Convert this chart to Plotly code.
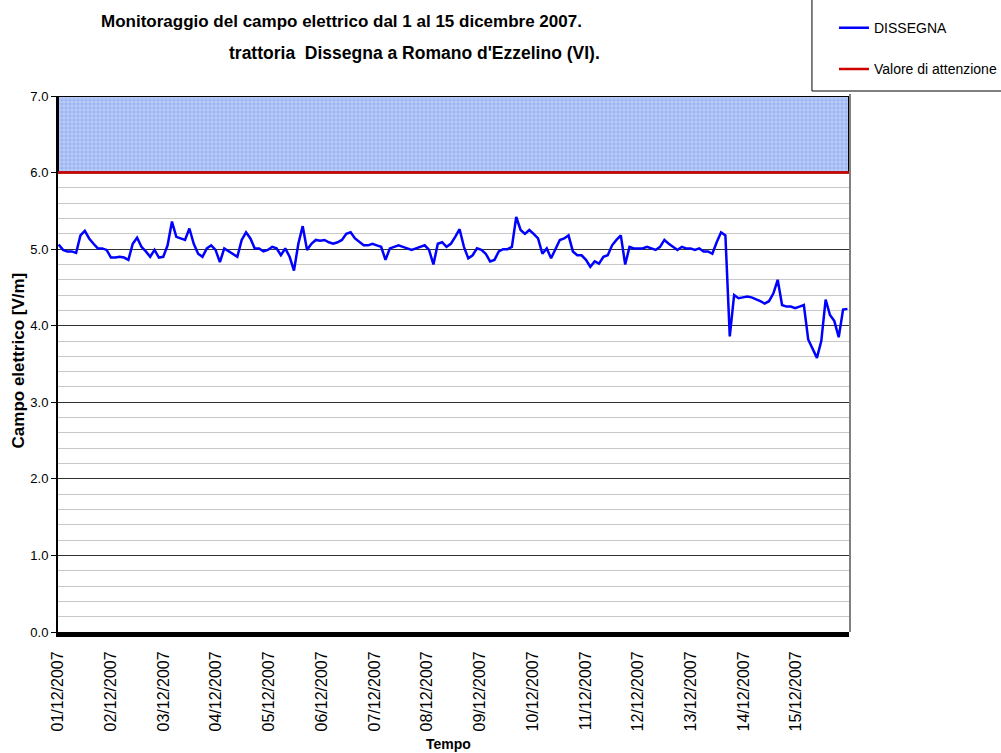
import plotly.graph_objects as go
import pandas as pd

# ---- data ----
tick_labels = ["01/12/2007", "02/12/2007", "03/12/2007", "04/12/2007", "05/12/2007",
               "06/12/2007", "07/12/2007", "08/12/2007", "09/12/2007", "10/12/2007",
               "11/12/2007", "12/12/2007", "13/12/2007", "14/12/2007", "15/12/2007"]
tick_dates = ["2007-12-%02d" % d for d in range(1, 16)]

dissegna = [
    5.06, 4.99, 4.97, 4.97, 4.95, 5.18, 5.24, 5.14, 5.07, 5.01,
    5.01, 4.99, 4.89, 4.89, 4.90, 4.89, 4.86, 5.07, 5.15, 5.03,
    4.97, 4.90, 4.99, 4.89, 4.90, 5.05, 5.36, 5.16, 5.14, 5.12,
    5.27, 5.07, 4.94, 4.90, 5.01, 5.05, 4.99, 4.83, 5.01, 4.97,
    4.94, 4.90, 5.12, 5.22, 5.14, 5.01, 5.01, 4.97, 4.99, 5.03,
    5.01, 4.92, 5.01, 4.90, 4.72, 5.07, 5.30, 4.99, 5.07, 5.12,
    5.11, 5.12, 5.09, 5.07, 5.09, 5.12, 5.20, 5.22, 5.14, 5.09,
    5.05, 5.05, 5.07, 5.05, 5.03, 4.86, 5.01, 5.03, 5.05, 5.03,
    5.01, 4.99, 5.01, 5.03, 5.05, 4.99, 4.80, 5.07, 5.09, 5.03,
    5.07, 5.16, 5.26, 5.03, 4.88, 4.92, 5.01, 4.99, 4.94, 4.84,
    4.86, 4.97, 5.00, 5.00, 5.03, 5.42, 5.25, 5.20, 5.25, 5.20,
    5.14, 4.94, 5.01, 4.88, 4.99, 5.12, 5.14, 5.18, 4.97, 4.92,
    4.92, 4.86, 4.77, 4.84, 4.81, 4.90, 4.92, 5.05, 5.12, 5.18,
    4.80, 5.03, 5.01, 5.01, 5.01, 5.03, 5.01, 4.99, 5.03, 5.12,
    5.07, 5.03, 4.99, 5.03, 5.01, 5.01, 4.99, 5.01, 4.97, 4.97,
    4.94, 5.09, 5.22, 5.18, 3.86, 4.40, 4.36, 4.37, 4.38, 4.37,
    4.35, 4.32, 4.29, 4.32, 4.42, 4.60, 4.27, 4.25, 4.25, 4.23,
    4.25, 4.27, 3.82, 3.69, 3.58, 3.80, 4.34, 4.14, 4.06, 3.85,
    4.21, 4.22,
]
times = pd.date_range("2007-12-01 00:18", periods=len(dissegna), freq="119min")

x_start, x_end = "2007-12-01 00:00", "2007-12-16 00:00"
soglia_x = [x_start, x_end]
soglia_y = [6.0, 6.0]
band_x = [x_start, x_end, x_end, x_start, x_start]
band_y = [6.0, 6.0, 7.0, 7.0, 6.0]

FONT = "Liberation Sans, Arial, sans-serif"

# horizontal compensation for the capture
SX = 0.987

W, H = round(1001 / SX), 753
L = 57 / SX
R = W - 847 / SX
T, B = 95, 121
pw, ph = W - L - R, H - T - B


def px(xp):
    return (xp / SX - L) / pw


def py(yp):
    return (H - B - yp) / ph


fig = go.Figure()

fig.add_trace(go.Scatter(
    x=band_x, y=band_y, mode="lines", fill="toself",
    fillcolor="#a6bdf4",
    fillpattern=dict(shape="+", bgcolor="#9db6f3", fgcolor="#ffffff", size=4, solidity=0.3),
    line=dict(color="black", width=2), showlegend=False, hoverinfo="skip"))

fig.add_trace(go.Scatter(
    x=times, y=dissegna, mode="lines", name="DISSEGNA",
    line=dict(color="#0000ff", width=2.5), legendgroup="a"))

fig.add_trace(go.Scatter(
    x=soglia_x, y=soglia_y, mode="lines", name="Valore di attenzione",
    line=dict(color="#d00000", width=2.5), legendgroup="b"))

fig.update_layout(
    width=W, height=H, autosize=False,
    margin=dict(l=L, r=R, t=T, b=B, pad=0),
    paper_bgcolor="white", plot_bgcolor="white",
    font=dict(family=FONT, size=13, color="black"),
    showlegend=True,
    legend=dict(x=px(832), y=py(11), xanchor="left", yanchor="top",
                bgcolor="rgba(0,0,0,0)", borderwidth=0,
                font=dict(family=FONT, size=14, color="black"),
                itemwidth=30, tracegroupgap=20),
    xaxis=dict(type="date", range=[x_start, x_end],
               tickvals=tick_dates, ticktext=tick_labels, tickangle=-90,
               tickfont=dict(family=FONT, size=16, color="black"),
               showgrid=False, zeroline=False, showline=True,
               linecolor="black", linewidth=5, ticks="", ticklabelstandoff=8),
    yaxis=dict(range=[0, 7], dtick=1, tickformat=".1f",
               tickfont=dict(family=FONT, size=13, color="black"),
               ticks="outside", ticklen=5, tickcolor="black", tickwidth=1,
               showline=True, linecolor="black", linewidth=2,
               showgrid=True, gridcolor="#303030", gridwidth=1,
               zeroline=False,
               minor=dict(dtick=0.2, showgrid=True, gridcolor="#c8c8c8", gridwidth=1)),
    shapes=[
        dict(type="line", xref="paper", yref="paper", x0=px(848), x1=px(848), y0=0, y1=py(93),
             line=dict(color="#808080", width=2)),
        dict(type="rect", xref="paper", yref="paper", x0=px(810), x1=px(1010), y0=py(90), y1=py(-10),
             line=dict(color="black", width=1), fillcolor="rgba(0,0,0,0)"),
    ],
    annotations=[
        dict(text="<b>Monitoraggio del campo elettrico dal 1 al 15 dicembre 2007.</b>",
             x=px(340), y=py(20), xref="paper", yref="paper", showarrow=False,
             xanchor="center", yanchor="middle", font=dict(family=FONT, size=17)),
        dict(text="<b>trattoria  Dissegna a Romano d'Ezzelino (VI).</b>",
             x=px(413), y=py(52), xref="paper", yref="paper", showarrow=False,
             xanchor="center", yanchor="middle", font=dict(family=FONT, size=17.5)),
        dict(text="<b>Campo elettrico [V/m]</b>", textangle=-90,
             x=px(18), y=py(360), xref="paper", yref="paper", showarrow=False,
             xanchor="center", yanchor="middle", font=dict(family=FONT, size=17)),
        dict(text="<b>Tempo</b>",
             x=px(447), y=py(744), xref="paper", yref="paper", showarrow=False,
             xanchor="center", yanchor="middle", font=dict(family=FONT, size=14)),
    ],
)

fig.write_html(
    "out.html",
    config={"responsive": False, "displayModeBar": False},
    post_script="document.body.style.margin='0';document.body.style.overflow='hidden';",
)
